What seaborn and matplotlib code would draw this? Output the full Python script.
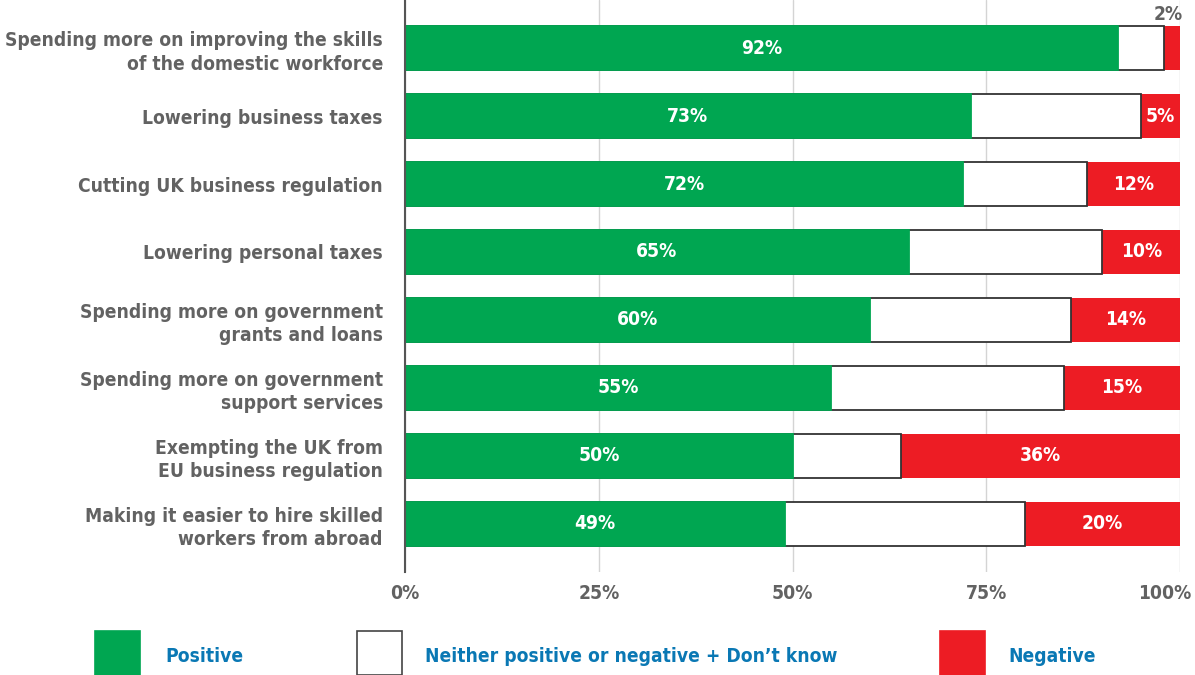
"""Stacked horizontal bar chart of business policy responses."""

import matplotlib.pyplot as plt
import matplotlib.transforms as mtransforms
import pandas as pd
import seaborn as sns
from matplotlib.patches import Rectangle

categories = [
    "Spending more on improving the skills\nof the domestic workforce",
    "Lowering business taxes",
    "Cutting UK business regulation",
    "Lowering personal taxes",
    "Spending more on government\ngrants and loans",
    "Spending more on government\nsupport services",
    "Exempting the UK from\nEU business regulation",
    "Making it easier to hire skilled\nworkers from abroad",
]
positive = [92, 73, 72, 65, 60, 55, 50, 49]
negative = [2, 5, 12, 10, 14, 15, 36, 20]
neither = [100 - p - n for p, n in zip(positive, negative)]

x_ticks = [0, 25, 50, 75, 100]
x_tick_labels = ["0%", "25%", "50%", "75%", "100%"]
legend_labels = ["Positive", "Neither positive or negative + Don\u2019t know", "Negative"]

GREEN = "#00a651"
RED = "#ed1c24"
GREY = "#626262"
BLUE = "#0a78b4"
FS = 13.8

sns.set_theme(style="white")
plt.rcParams["font.family"] = ["DejaVu Sans"]
plt.rcParams["font.stretch"] = "condensed"
plt.rcParams["font.weight"] = "bold"

df = pd.DataFrame({
    "category": categories,
    "positive": positive,
    "neither": neither,
    "negative": negative,
})
df["pos_neither"] = df["positive"] + df["neither"]
df["total"] = df["pos_neither"] + df["negative"]

fig = plt.figure(figsize=(11.95, 6.75), dpi=100)
ax = fig.add_axes([0.339, 0.1526, 0.6484, 0.8474])

bar_w = 0.66
sns.barplot(data=df, x="total", y="category", orient="h", color=RED,
            width=bar_w, linewidth=0, saturation=1, ax=ax, zorder=2)
sns.barplot(data=df, x="pos_neither", y="category", orient="h", color="white",
            edgecolor="#333333", linewidth=1.3, width=bar_w, saturation=1,
            ax=ax, zorder=3)
sns.barplot(data=df, x="positive", y="category", orient="h", color=GREEN,
            edgecolor=GREEN, linewidth=1.3, width=bar_w, saturation=1,
            ax=ax, zorder=4)

for i, row in df.iterrows():
    ax.text(row["positive"] / 2, i, f"{row['positive']}%", ha="center",
            va="center", color="white", fontsize=FS, fontweight="bold", zorder=5)
    mid_neg = row["pos_neither"] + row["negative"] / 2
    if row["negative"] >= 5:
        ax.text(mid_neg, i, f"{row['negative']}%", ha="center", va="center",
                color="white", fontsize=FS, fontweight="bold", zorder=5)
    else:
        # too thin for a label inside, so it sits above the bar
        ax.text(mid_neg - 0.5, i - bar_w / 2 - 0.03, f"{row['negative']}%",
                ha="center", va="bottom", color=GREY, fontsize=FS,
                fontweight="bold", zorder=5, clip_on=False)

ax.set_xlim(0, 100)
ax.set_ylim(7.706, -0.706)
ax.set_xticks(x_ticks)
ax.set_xticklabels(x_tick_labels)
ax.set_xlabel("")
ax.set_ylabel("")
ax.set_yticks(range(len(categories)))
ax.set_yticklabels(categories, ha="right", linespacing=1.3)
ax.tick_params(axis="y", length=0, pad=16, labelsize=FS, labelcolor=GREY)
ax.tick_params(axis="x", length=0, pad=9, labelsize=FS, labelcolor=GREY)
for lbl in ax.get_yticklabels() + ax.get_xticklabels():
    lbl.set_fontweight("bold")
    lbl.set_fontstretch("condensed")

# keep "100%" inside the figure
last = ax.get_xticklabels()[-1]
last.set_transform(last.get_transform() +
                   mtransforms.ScaledTranslation(-15 / 100, 0, fig.dpi_scale_trans))

ax.grid(axis="x", color="#d4d4d4", linewidth=1, zorder=0)
ax.set_axisbelow(True)
for side in ["top", "right", "bottom"]:
    ax.spines[side].set_visible(False)
ax.spines["left"].set_color("#555555")
ax.spines["left"].set_linewidth(1.5)
ax.spines["left"].set_zorder(6)

# legend along the bottom
W, H = 1195, 675
boxes = [(95, GREEN, None), (357, "white", "#444444"), (940, RED, None)]
text_x = [165, 425, 1008]
for (bx, fc, ec), tx, lab in zip(boxes, text_x, legend_labels):
    fig.patches.append(Rectangle((bx / W, 0), 45 / W, 44 / H,
                                 transform=fig.transFigure, facecolor=fc,
                                 edgecolor=ec if ec else fc, linewidth=1.2))
    fig.text(tx / W, 1 - 656 / H, lab, ha="left", va="center", color=BLUE,
             fontsize=FS, fontweight="bold")

fig.savefig("out.png", dpi=100)
